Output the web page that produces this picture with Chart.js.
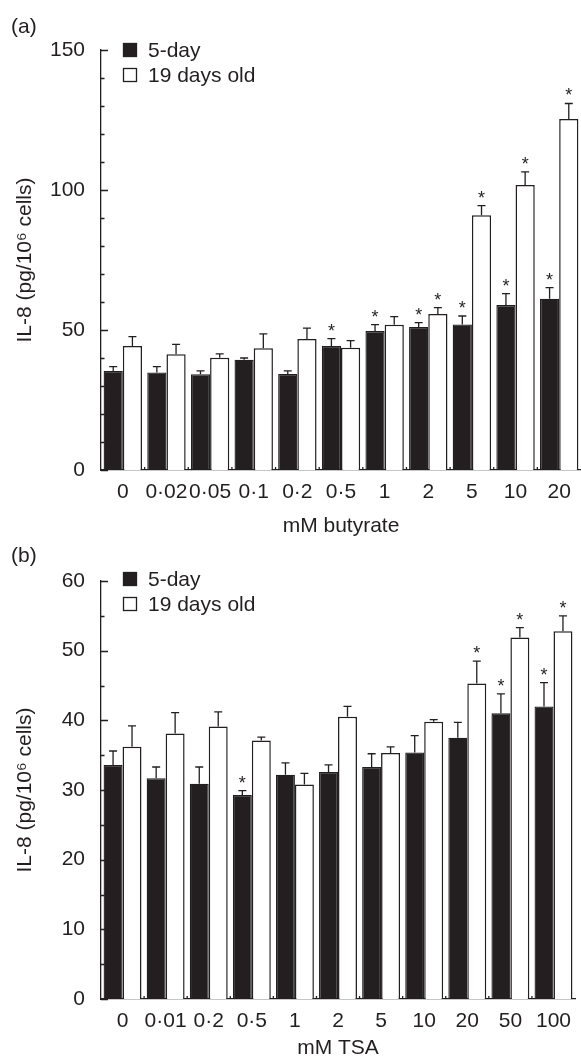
<!DOCTYPE html>
<html>
<head>
<meta charset="utf-8">
<script src="https://cdn.jsdelivr.net/npm/chart.js@4.4.1/dist/chart.umd.min.js"></script>
<style>
  html, body { margin: 0; padding: 0; background: #fff; }
  .panel { position: absolute; left: 0; width: 581px; }
  #panel-a { top: 0; height: 540px; }
  #panel-b { top: 540px; height: 521px; }
</style>
</head>
<body>
<div class="panel" id="panel-a"><canvas id="chart-a" width="581" height="540"></canvas></div>
<div class="panel" id="panel-b"><canvas id="chart-b" width="581" height="521"></canvas></div>
<script>
// --- DATA: panel (a) butyrate ---
const labelsA = ['0', '0·02', '0·05', '0·1', '0·2', '0·5', '1', '2', '5', '10', '20'];
const day5A   = [35.4, 34.8, 34.2, 39.4, 34.3, 44.3, 49.6, 51.1, 52.0, 58.9, 61.2];
const err5A   = [1.5, 2.1, 1.2, 0.6, 1.1, 2.6, 2.3, 1.5, 3.0, 4.1, 3.9];
const day19A  = [44.3, 41.3, 40.1, 43.5, 46.8, 43.7, 51.9, 55.7, 91.0, 101.8, 125.4];
const err19A  = [3.3, 3.6, 1.4, 5.1, 3.9, 2.5, 2.9, 2.3, 3.4, 4.7, 5.5];
const sig5A   = [0, 0, 0, 0, 0, 1, 1, 1, 1, 1, 1];
const sig19A  = [0, 0, 0, 0, 0, 0, 0, 1, 1, 1, 1];

// --- DATA: panel (b) TSA ---
const labelsB = ['0', '0·01', '0·2', '0·5', '1', '2', '5', '10', '20', '50', '100'];
const day5B   = [33.6, 31.7, 30.9, 29.3, 32.2, 32.6, 33.3, 35.4, 37.5, 41.0, 42.0];
const err5B   = [2.0, 1.6, 2.4, 0.6, 1.7, 1.0, 1.9, 2.4, 2.2, 2.8, 3.4];
const day19B  = [36.2, 38.1, 39.1, 37.1, 30.8, 40.5, 35.3, 39.8, 45.3, 51.9, 52.8];
const err19B  = [3.0, 3.0, 2.1, 0.5, 1.6, 1.5, 0.9, 0.3, 3.2, 1.4, 2.2];
const sig5B   = [0, 0, 0, 1, 0, 0, 0, 0, 0, 1, 1];
const sig19B  = [0, 0, 0, 0, 0, 0, 0, 0, 1, 1, 1];

const INK = '#231f20';
const FONT = "'Liberation Sans', Arial, Helvetica, sans-serif";
const FS = 21;

Chart.defaults.font.family = FONT;
Chart.defaults.font.size = FS;
Chart.defaults.color = INK;

// error bars, asterisks, inward ticks, legend and panel letter
const extrasPlugin = {
    id: 'extras',
    afterDatasetsDraw(chart, args, opts) {
        const ctx = chart.ctx;
        const yScale = chart.scales.y;
        ctx.save();
        ctx.strokeStyle = INK;
        ctx.fillStyle = INK;
        ctx.lineWidth = 1.3;
        chart.data.datasets.forEach((ds, d) => {
            const meta = chart.getDatasetMeta(d);
            meta.data.forEach((bar, i) => {
                const top = yScale.getPixelForValue(ds.data[i] + ds.errors[i]);
                ctx.beginPath();
                ctx.moveTo(bar.x, bar.y);
                ctx.lineTo(bar.x, top);
                ctx.moveTo(bar.x - 4, top);
                ctx.lineTo(bar.x + 4, top);
                ctx.stroke();
                if (ds.sig[i]) {
                    ctx.font = '18px ' + FONT;
                    ctx.textAlign = 'center';
                    ctx.textBaseline = 'alphabetic';
                    ctx.fillText('*', bar.x, top - 2);
                }
            });
        });
        ctx.restore();
    },
    afterDraw(chart, args, opts) {
        const ctx = chart.ctx;
        const { left, top, bottom } = chart.chartArea;
        const yScale = chart.scales.y;
        const xScale = chart.scales.x;
        ctx.save();
        ctx.strokeStyle = INK;
        ctx.lineWidth = 1.3;

        // y ticks pointing into the plot
        ctx.beginPath();
        for (let v = yScale.min; v <= yScale.max; v += opts.minor) {
            const py = Math.round(yScale.getPixelForValue(v)) + 0.5;
            const len = v % opts.major === 0 ? 7 : 3.5;
            ctx.moveTo(left, py);
            ctx.lineTo(left + len, py);
        }
        // little marks between groups on the x axis
        for (let i = 0; i < chart.data.labels.length - 1; i++) {
            const px = (xScale.getPixelForValue(i) + xScale.getPixelForValue(i + 1)) / 2;
            ctx.moveTo(px, bottom);
            ctx.lineTo(px, bottom - 3);
        }
        ctx.stroke();

        // legend
        const lx = left + 22;
        ctx.font = FS + 'px ' + FONT;
        ctx.textAlign = 'left';
        ctx.textBaseline = 'middle';
        chart.data.datasets.forEach((ds, d) => {
            const sy = top + opts.legendTop + d * 25;
            ctx.fillStyle = ds.backgroundColor;
            ctx.fillRect(lx, sy, 14, 14);
            ctx.strokeRect(lx + 0.5, sy + 0.5, 13, 13);
            ctx.fillStyle = INK;
            ctx.fillText(ds.label, lx + 25, sy + 8);
        });

        // panel letter
        ctx.fillText(opts.letter, 11, opts.letterY);
        ctx.restore();
    }
};

function buildChart(canvasId, labels, d5, e5, s5, d19, e19, s19, yMax, yStep, minor, xTitle, extras, layout) {
    const ctx = document.getElementById(canvasId).getContext('2d');
    return new Chart(ctx, {
        type: 'bar',
        data: {
            labels: labels,
            datasets: [
                {
                    label: '5-day',
                    data: d5, errors: e5, sig: s5,
                    backgroundColor: INK,
                    borderColor: INK,
                    borderWidth: 1.3
                },
                {
                    label: '19 days old',
                    data: d19, errors: e19, sig: s19,
                    backgroundColor: '#ffffff',
                    borderColor: INK,
                    borderWidth: 1.5
                }
            ]
        },
        options: {
            responsive: false,
            animation: false,
            devicePixelRatio: 1,
            categoryPercentage: 0.88,
            barPercentage: 1.0,
            layout: { padding: { top: layout.top, left: 0, right: 0, bottom: 0 } },
            plugins: {
                legend: { display: false },
                tooltip: { enabled: false },
                extras: Object.assign({ minor: minor, major: yStep }, extras)
            },
            scales: {
                x: {
                    grid: { display: false, drawTicks: false },
                    border: { display: true, color: INK, width: 1.3 },
                    ticks: { autoSkip: false, maxRotation: 0, minRotation: 0, padding: 10, color: INK },
                    title: { display: true, text: xTitle, color: INK, padding: { top: 0, bottom: layout.titleBottom } },
                    afterFit: s => { s.height = layout.xHeight; }
                },
                y: {
                    min: 0,
                    max: yMax,
                    grid: { display: false, drawTicks: false },
                    border: { display: true, color: INK, width: 1.3 },
                    ticks: { stepSize: yStep, padding: 16, color: INK },
                    title: {
                        display: true,
                        text: 'IL-8 (pg/10⁶ cells)',
                        color: INK,
                        font: { size: FS, lineHeight: 1.2 },
                        padding: { top: 13, bottom: 0 }
                    },
                    afterFit: s => { s.width = 101; }
                }
            }
        },
        plugins: [extrasPlugin]
    });
}

buildChart('chart-a', labelsA, day5A, err5A, sig5A, day19A, err19A, sig19A,
    150, 50, 10, 'mM butyrate',
    { legendTop: -7, letter: '(a)', letterY: 27 },
    { top: 50, xHeight: 70, titleBottom: 1 });

buildChart('chart-b', labelsB, day5B, err5B, sig5B, day19B, err19B, sig19B,
    60, 10, 5, 'mM TSA',
    { legendTop: -9, letter: '(b)', letterY: 16 },
    { top: 41, xHeight: 62, titleBottom: 0 });
</script>
</body>
</html>
